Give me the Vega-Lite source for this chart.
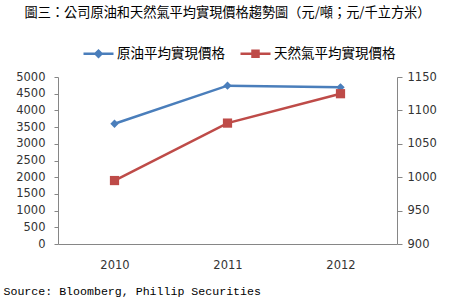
{
  "$schema": "https://vega.github.io/schema/vega-lite/v6.json",
  "width": 339,
  "height": 167,
  "autosize": "none",
  "padding": {"left": 58, "top": 77, "right": 56, "bottom": 55},
  "background": "white",
  "config": {"view": {"stroke": null}},
  "title": {
    "text": "圖三：公司原油和天然氣平均實現價格趨勢圖（元/噸；元/千立方米）",
    "font": "Noto Sans CJK TC",
    "fontSize": 13.2,
    "fontWeight": "normal",
    "color": "#000000",
    "anchor": "middle",
    "baseline": "middle",
    "offset": 11
  },
  "data": {
    "values": [
      {"year": "2010", "series": "原油平均實現價格", "value": 3600},
      {"year": "2011", "series": "原油平均實現價格", "value": 4740},
      {"year": "2012", "series": "原油平均實現價格", "value": 4690},
      {"year": "2010", "series": "天然氣平均實現價格", "value": 995},
      {"year": "2011", "series": "天然氣平均實現價格", "value": 1081},
      {"year": "2012", "series": "天然氣平均實現價格", "value": 1125}
    ]
  },
  "encoding": {
    "x": {
      "field": "year",
      "type": "ordinal",
      "scale": {"type": "point", "padding": 0.5},
      "axis": {
        "title": "Source: Bloomberg, Phillip Securities",
        "titleFont": "Liberation Mono",
        "titleFontSize": 11.6,
        "titleFontWeight": "normal",
        "titleColor": "#000000",
        "titleAnchor": "start",
        "titleAlign": "left",
        "titleBaseline": "middle",
        "titleX": -55,
        "titleY": 47,
        "labelAngle": 0,
        "ticks": false,
        "labelPadding": 15,
        "labelFont": "DejaVu Sans",
        "labelFontSize": 11.5,
        "labelColor": "#333333",
        "domainColor": "#868686",
        "grid": false
      }
    },
    "color": {
      "field": "series",
      "type": "nominal",
      "scale": {"domain": ["原油平均實現價格", "天然氣平均實現價格"], "range": ["#4A7EBB", "#BE4B48"]},
      "legend": {
        "orient": "none",
        "legendX": 24,
        "legendY": -40,
        "direction": "horizontal",
        "title": null,
        "symbolSize": 900,
        "symbolStrokeWidth": 2.5,
        "labelFont": "Noto Sans CJK TC",
        "labelFontSize": 13.5,
        "labelColor": "#000000",
        "labelOffset": 2,
        "columnPadding": 10,
        "encode": {
          "symbols": {
            "update": {
              "shape": {"signal": "datum.value == '原油平均實現價格' ? 'M-1,0H1M-0.2,0L0,-0.2L0.2,0L0,0.2Z' : 'M-1,0H1M-0.2,-0.2H0.2V0.2H-0.2Z'"},
              "fill": {"scale": "color", "field": "value"},
              "stroke": {"scale": "color", "field": "value"},
              "strokeWidth": {"value": 2.5},
              "opacity": {"value": 1}
            }
          }
        }
      }
    }
  },
  "layer": [
    {
      "transform": [{"filter": {"field": "series", "equal": "原油平均實現價格"}}],
      "mark": {"type": "line", "strokeWidth": 2.5, "point": {"shape": "diamond", "size": 70, "filled": true, "opacity": 1}},
      "encoding": {
        "y": {
          "field": "value",
          "type": "quantitative",
          "scale": {"domain": [0, 5000], "nice": false, "zero": false},
          "axis": {
            "orient": "left",
            "title": null,
            "values": [0, 500, 1000, 1500, 2000, 2500, 3000, 3500, 4000, 4500, 5000],
            "format": "d",
            "grid": false,
            "domainColor": "#868686",
            "tickColor": "#868686",
            "tickSize": 4,
            "labelPadding": 9,
            "labelFont": "DejaVu Sans",
            "labelFontSize": 11.5,
            "labelColor": "#333333"
          }
        }
      }
    },
    {
      "transform": [{"filter": {"field": "series", "equal": "天然氣平均實現價格"}}],
      "mark": {"type": "line", "strokeWidth": 2.5, "point": {"shape": "square", "size": 85, "filled": true, "opacity": 1}},
      "encoding": {
        "y": {
          "field": "value",
          "type": "quantitative",
          "scale": {"domain": [900, 1150], "nice": false, "zero": false},
          "axis": {
            "orient": "right",
            "title": null,
            "values": [900, 950, 1000, 1050, 1100, 1150],
            "format": "d",
            "grid": false,
            "domainColor": "#868686",
            "tickColor": "#868686",
            "tickSize": 5,
            "labelPadding": 5,
            "labelFont": "DejaVu Sans",
            "labelFontSize": 11.5,
            "labelColor": "#333333"
          }
        }
      }
    }
  ],
  "resolve": {"scale": {"y": "independent"}}
}
